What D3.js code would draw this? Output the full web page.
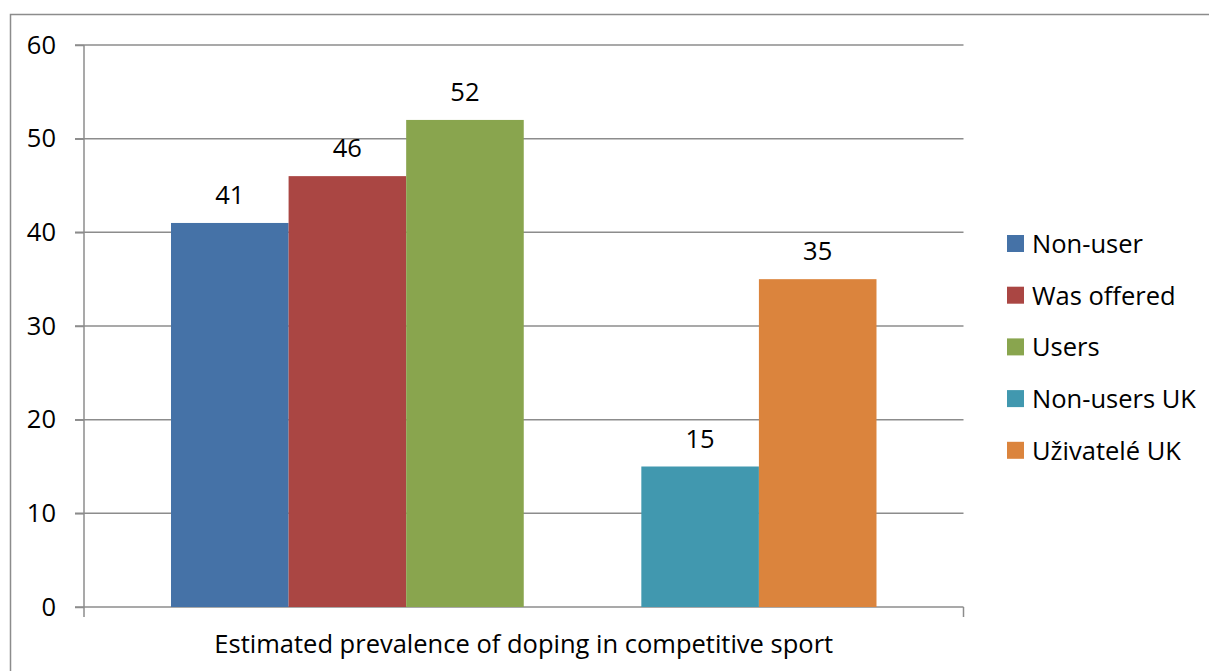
<!DOCTYPE html>
<html>
<head>
<meta charset="utf-8">
<script src="https://cdn.jsdelivr.net/npm/d3@7"></script>
<style>
  html, body { margin: 0; padding: 0; background: #fff; }
  svg { display: block; }
  text { font-family: "Open Sans", "Noto Sans", sans-serif; fill: #000; }
</style>
</head>
<body>
<svg id="chart" width="1209" height="671"></svg>
<script>
// Series shown in the chart, in drawing order
const seriesNames = ["Non-user", "Was offered", "Users", "Non-users UK", "Uživatelé UK"];
const seriesValues = [41, 46, 52, 15, 35];
const seriesColors = ["#4572A7", "#AA4643", "#89A54E", "#4198AF", "#DB843D"];
// Bar slots along the category: the fourth slot is an empty series
const slotOrder = ["Non-user", "Was offered", "Users", "(blank)", "Non-users UK", "Uživatelé UK"];
const categoryLabel = "Estimated prevalence of doping in competitive sport";
const yTicks = [0, 10, 20, 30, 40, 50, 60];

const svg = d3.select("#chart");
const plot = { left: 84, right: 963.5, top: 45, bottom: 607 };
const fontSize = 25.5;
const fontFamily = "'Open Sans', 'Noto Sans', sans-serif";
const gridColor = "#8c8c8c";

// Chart area frame
svg.append("rect")
  .attr("x", 10.5).attr("y", 14.5)
  .attr("width", 1220).attr("height", 700)
  .attr("fill", "#fff")
  .attr("stroke", gridColor).attr("stroke-width", 1.5);

const y = d3.scaleLinear().domain([0, 60]).range([plot.bottom, plot.top]);
const x = d3.scaleBand()
  .domain(slotOrder)
  .range([plot.left, plot.right])
  .paddingInner(0)
  .paddingOuter(0.74);

// Horizontal gridlines
svg.append("g")
  .selectAll("line")
  .data(yTicks)
  .join("line")
  .attr("x1", plot.left - 9).attr("x2", plot.right)
  .attr("y1", d => y(d)).attr("y2", d => y(d))
  .attr("stroke", gridColor).attr("stroke-width", 1.5);

// Y axis with tick labels
const yAxis = d3.axisLeft(y).tickValues(yTicks).tickSize(9).tickPadding(19);
const gy = svg.append("g").attr("transform", `translate(${plot.left},0)`).call(yAxis);
gy.select(".domain").attr("stroke", gridColor).attr("stroke-width", 1.5)
  .attr("d", `M0,${plot.top}V${plot.bottom + 10}`);
gy.selectAll(".tick line").attr("stroke", gridColor).attr("stroke-width", 1.5);
gy.selectAll(".tick text")
  .attr("font-size", fontSize)
  .attr("font-family", fontFamily)
  .attr("fill", "#000");

// Right end tick of the category axis
svg.append("line")
  .attr("x1", plot.right).attr("x2", plot.right)
  .attr("y1", plot.bottom).attr("y2", plot.bottom + 10)
  .attr("stroke", gridColor).attr("stroke-width", 1.5);

// Bars
const bars = seriesNames.map((n, i) => ({ name: n, value: seriesValues[i], color: seriesColors[i] }));
svg.append("g")
  .selectAll("rect")
  .data(bars)
  .join("rect")
  .attr("x", d => x(d.name))
  .attr("width", x.bandwidth())
  .attr("y", d => y(d.value))
  .attr("height", d => y(0) - y(d.value))
  .attr("fill", d => d.color);

// Value labels above each bar
svg.append("g")
  .selectAll("text")
  .data(bars)
  .join("text")
  .attr("x", d => x(d.name) + x.bandwidth() / 2)
  .attr("y", d => y(d.value) - 19)
  .attr("text-anchor", "middle")
  .attr("font-size", fontSize)
  .text(d => d.value);

// Category label under the axis
svg.append("text")
  .attr("x", (plot.left + plot.right) / 2)
  .attr("y", 653)
  .attr("text-anchor", "middle")
  .attr("font-size", fontSize)
  .text(categoryLabel);

// Legend
const legend = svg.append("g").attr("transform", "translate(1007,243.5)");
const rows = legend.selectAll("g")
  .data(bars)
  .join("g")
  .attr("transform", (d, i) => `translate(0,${i * 51.7})`);
rows.append("rect")
  .attr("x", 0).attr("y", -8.5)
  .attr("width", 17).attr("height", 17)
  .attr("fill", d => d.color);
rows.append("text")
  .attr("x", 25).attr("y", 9.5)
  .attr("font-size", fontSize)
  .text(d => d.name);
</script>
</body>
</html>
